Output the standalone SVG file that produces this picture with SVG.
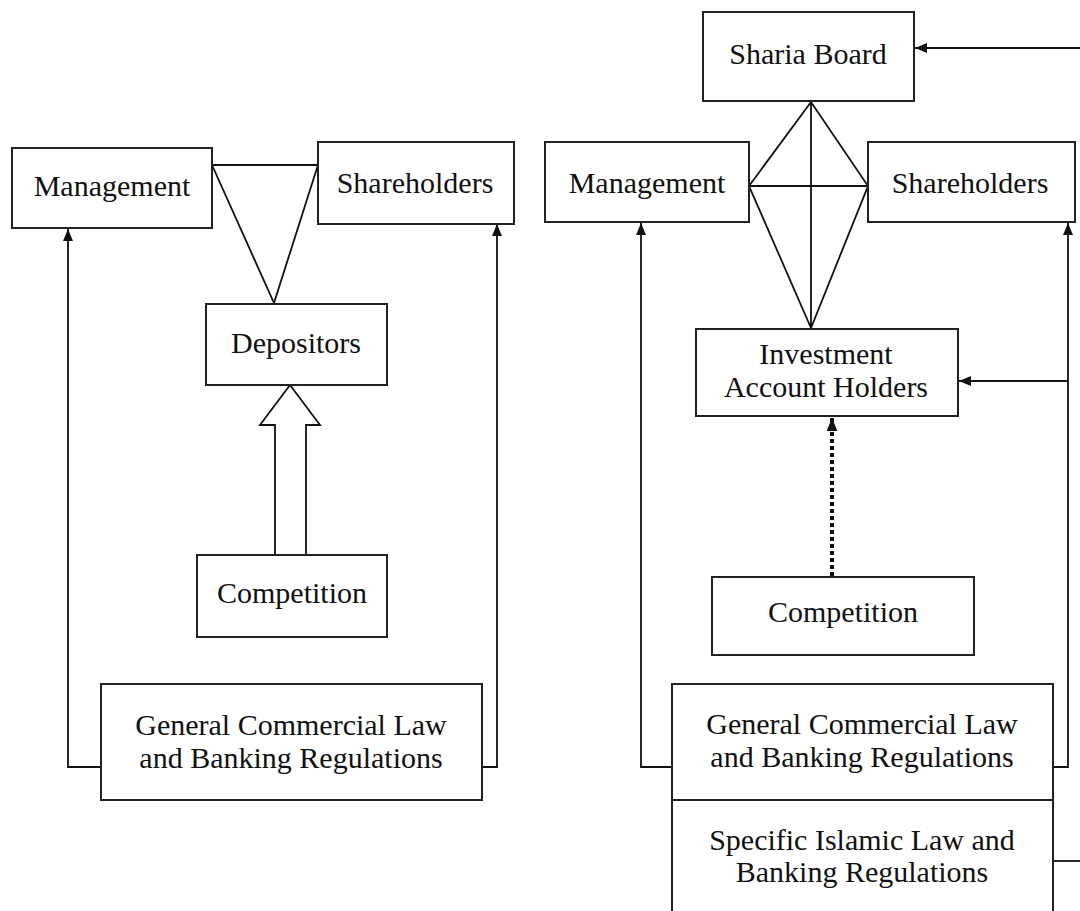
<svg xmlns="http://www.w3.org/2000/svg" width="1080" height="911" viewBox="0 0 1080 911">
<defs>
<style>
.box{fill:#fff;stroke:#222;stroke-width:2}
.ln{fill:none;stroke:#111;stroke-width:1.8}
.t{font-family:"Liberation Serif","Times New Roman",serif;font-size:30px;fill:#111;text-anchor:middle}
</style>
<marker id="ah" viewBox="0 0 12 10" refX="12" refY="5" markerWidth="12" markerHeight="10" markerUnits="userSpaceOnUse" orient="auto">
<path d="M0,0 L12,5 L0,10 z" fill="#111"/>
</marker>
<marker id="ah2" viewBox="0 0 12 10" refX="12" refY="5" markerWidth="13" markerHeight="11" markerUnits="userSpaceOnUse" orient="auto">
<path d="M0,0 L12,5 L0,10 z" fill="#111"/>
</marker>
</defs>
<rect width="1080" height="911" fill="#fff"/>
<g id="connectors">
<polyline class="ln" points="101,767 68,767 68,229" marker-end="url(#ah)"/>
<polyline class="ln" points="482,767 497,767 497,224" marker-end="url(#ah)"/>
<polygon class="ln" points="212,165 318,165 274,303"/>
<polygon fill="#fff" stroke="#111" stroke-width="1.8" points="275,555 275,425 260,425 290,385 320,425 306,425 306,555"/>
<polyline class="ln" points="672,767 641,767 641,223" marker-end="url(#ah)"/>
<polyline class="ln" points="1053,767 1068,767 1068,223" marker-end="url(#ah)"/>
<line class="ln" x1="1068" y1="381" x2="959" y2="381" marker-end="url(#ah)"/>
<line class="ln" x1="1080" y1="48" x2="915" y2="48" marker-end="url(#ah)"/>
<line class="ln" x1="1053" y1="861" x2="1080" y2="861"/>
<path class="ln" d="M811,102 L749,186 L811,328 L868,186 Z M749,186 L868,186 M811,102 L811,328"/>
<line x1="832" y1="576" x2="832" y2="418" stroke="#111" stroke-width="4" stroke-dasharray="4 3" marker-end="url(#ah2)"/>
</g>
<g id="left-management"><rect class="box" x="12" y="148" width="200" height="80"/><text class="t" x="112" y="196">Management</text></g>
<g id="left-shareholders"><rect class="box" x="318" y="142" width="196" height="82"/><text class="t" x="415" y="193">Shareholders</text></g>
<g id="left-depositors"><rect class="box" x="206" y="304" width="181" height="81"/><text class="t" x="296" y="353">Depositors</text></g>
<g id="left-competition"><rect class="box" x="197" y="555" width="190" height="82"/><text class="t" x="292" y="603">Competition</text></g>
<g id="left-law"><rect class="box" x="101" y="684" width="381" height="116"/><text class="t" x="291" y="735">General Commercial Law</text><text class="t" x="291" y="768">and Banking Regulations</text></g>
<g id="sharia-board"><rect class="box" x="703" y="12" width="211" height="89"/><text class="t" x="808" y="64">Sharia Board</text></g>
<g id="right-management"><rect class="box" x="545" y="142" width="204" height="80"/><text class="t" x="647" y="193">Management</text></g>
<g id="right-shareholders"><rect class="box" x="868" y="142" width="207" height="80"/><text class="t" x="970" y="193">Shareholders</text></g>
<g id="iah"><rect class="box" x="696" y="329" width="262" height="87"/><text class="t" x="826" y="364">Investment</text><text class="t" x="826" y="397">Account Holders</text></g>
<g id="right-competition"><rect class="box" x="712" y="577" width="262" height="78"/><text class="t" x="843" y="622">Competition</text></g>
<g id="right-law"><rect class="box" x="672" y="684" width="381" height="116"/><text class="t" x="862" y="734">General Commercial Law</text><text class="t" x="862" y="767">and Banking Regulations</text></g>
<g id="islamic-law"><rect class="box" x="672" y="800" width="381" height="120"/><text class="t" x="862" y="850">Specific Islamic Law and</text><text class="t" x="862" y="882">Banking Regulations</text></g>
</svg>
